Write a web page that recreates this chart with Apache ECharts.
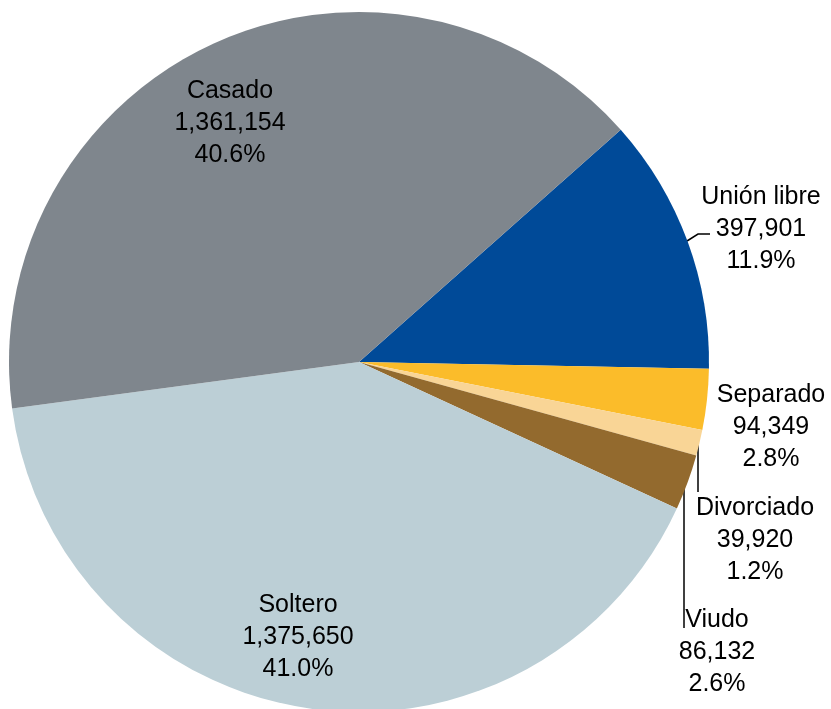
<!DOCTYPE html>
<html>
<head>
<meta charset="utf-8">
<script src="https://cdn.jsdelivr.net/npm/echarts@6/dist/echarts.min.js"></script>
<style>html,body{margin:0;padding:0;background:#fff;}#c{width:831px;height:709px;}</style>
</head>
<body>
<div id="c"></div>
<script>
const categories = ['Unión libre', 'Separado', 'Divorciado', 'Viudo', 'Soltero', 'Casado'];
const values = [397901, 94349, 39920, 86132, 1375650, 1361154];
const colors = ['#004a98', '#fbbc2a', '#f9d596', '#936a2e', '#bccfd6', '#7f868d'];

const total = values.reduce((a, b) => a + b, 0);
const labelPos = [
  [761, 229], [771, 427], [755, 540], [717, 652], [298, 637], [230, 123]
];
const linePts = [
  [[687, 241], [698, 234], [710, 234]],
  null,
  [[698, 445], [698, 492], [698, 492]],
  [[684, 483], [684, 628], [684, 628]],
  null,
  null
];

const chart = echarts.init(document.getElementById('c'));
chart.setOption({
  animation: false,
  series: [{
    type: 'pie',
    center: [359, 362],
    radius: 350,
    startAngle: 41.6,
    clockwise: true,
    label: {
      show: true,
      color: '#000',
      fontFamily: 'Liberation Sans, Arial, sans-serif',
      fontSize: 25,
      lineHeight: 32,
      align: 'center',
      overflow: 'none',
      alignTo: 'none',
      formatter: function (p) {
        return p.name + '\n' + p.value.toLocaleString('en-US') + '\n' + (p.value / total * 100).toFixed(1) + '%';
      }
    },
    labelLine: { show: true, lineStyle: { color: '#000', width: 1.5 } },
    labelLayout: function (p) {
      const i = p.dataIndex;
      const r = { x: labelPos[i][0], y: labelPos[i][1], align: 'center', verticalAlign: 'middle', width: 200 };
      if (linePts[i]) r.labelLinePoints = linePts[i];
      return r;
    },
    itemStyle: { borderWidth: 0 },
    emphasis: { disabled: true },
    data: categories.map((c, i) => ({
      name: c,
      value: values[i],
      itemStyle: { color: colors[i] },
      labelLine: { show: !!linePts[i] }
    }))
  }]
});
</script>
</body>
</html>
